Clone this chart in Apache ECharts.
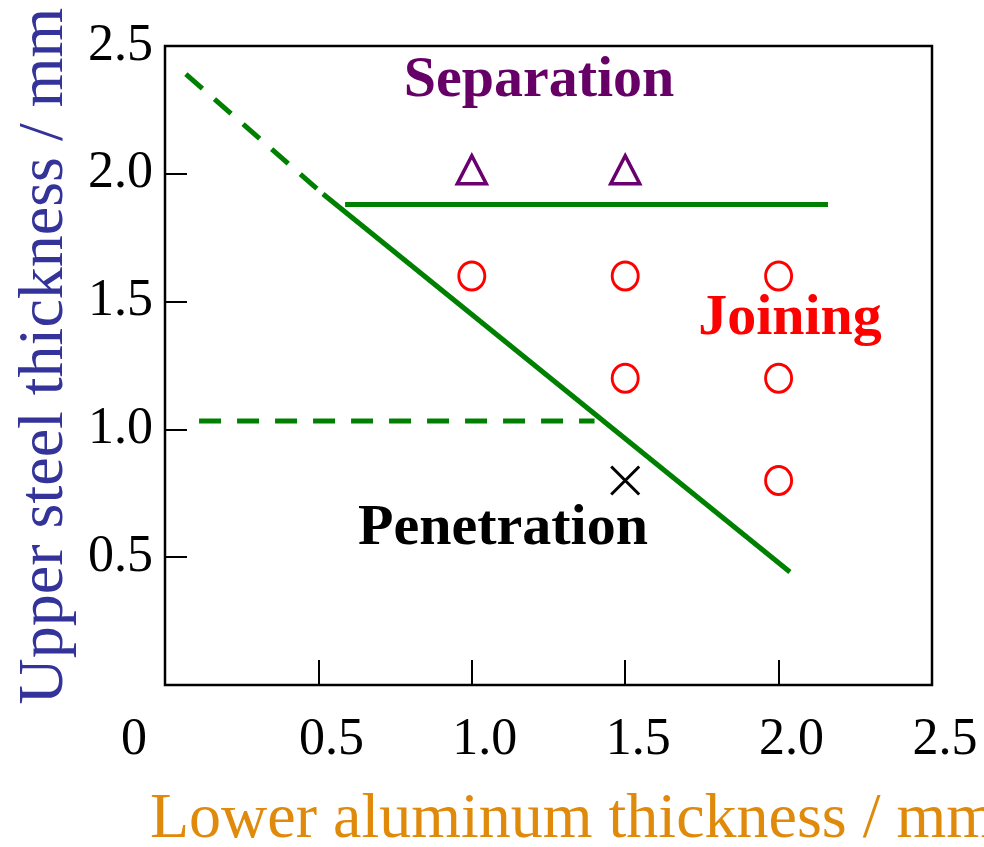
<!DOCTYPE html>
<html>
<head>
<meta charset="utf-8">
<script src="https://cdn.jsdelivr.net/npm/echarts@6/dist/echarts.min.js"></script>
<style>
html,body{margin:0;padding:0;background:#fff;}
#chart{width:984px;height:847px;}
</style>
</head>
<body>
<div id="chart"></div>
<script>
// ---- data ----
const xTickLabels = ['0', '0.5', '1.0', '1.5', '2.0', '2.5'];
const yTickLabels = ['', '0.5', '1.0', '1.5', '2.0', '2.5'];
const separationPts = [[1.0, 2.0], [1.5, 2.0]];
const joiningPts = [[1.0, 1.6], [1.5, 1.6], [2.0, 1.6], [1.5, 1.2], [2.0, 1.2], [2.0, 0.8]];
const penetrationPts = [[1.5, 0.8]];
const boundaryDiagDashed = [[0.068, 2.39], [0.515, 1.921]];
const boundaryDiagSolid = [[0.515, 1.921], [2.037, 0.442]];
const boundarySeparation = [[0.587, 1.88], [2.161, 1.88]];
const boundaryPenetration = [[0.111, 1.033], [1.40, 1.033]];
const regionLabels = ['Separation', 'Joining', 'Penetration'];
const xTitle = 'Lower aluminum thickness / mm';
const yTitle = 'Upper steel thickness / mm';

const FONT = '"Liberation Serif", "Times New Roman", serif';
const GREEN = '#008000';

const chart = echarts.init(document.getElementById('chart'), null, {renderer: 'canvas'});

function lineSeries(data, dashed) {
  return {
    type: 'line', data: data, symbol: 'none', silent: true, z: 2,
    lineStyle: {color: GREEN, width: 5, opacity: 1, type: dashed ? [22, 16] : 'solid', cap: 'butt'}
  };
}

const option = {
  animation: false,
  backgroundColor: '#fff',
  grid: {left: 165, top: 46, right: 52, bottom: 162, show: true, borderColor: '#000', borderWidth: 2.5, backgroundColor: 'transparent'},
  xAxis: {
    type: 'value', min: 0, max: 2.5, interval: 0.5,
    axisLine: {show: false},
    splitLine: {show: false},
    axisTick: {show: true, inside: true, length: 25, lineStyle: {color: '#000', width: 2}},
    axisLabel: {
      margin: 29, color: '#000', fontSize: 52, fontFamily: FONT, showMinLabel: true, showMaxLabel: true,
      formatter: function (v) {
        const i = Math.round(v / 0.5);
        return i === 0 ? '{o|' + xTickLabels[i] + '}' : '{n|' + xTickLabels[i] + '}';
      },
      rich: {
        o: {fontSize: 52, fontFamily: FONT, color: '#000', padding: [0, 62, 0, 0]},
        n: {fontSize: 52, fontFamily: FONT, color: '#000', padding: [0, 0, 0, 26]}
      }
    }
  },
  yAxis: {
    type: 'value', min: 0, max: 2.5, interval: 0.5,
    axisLine: {show: false},
    splitLine: {show: false},
    axisTick: {show: true, inside: true, length: 22, lineStyle: {color: '#000', width: 2}},
    axisLabel: {
      margin: 12, color: '#000', fontSize: 52, fontFamily: FONT, padding: [12, 0, 0, 0],
      showMinLabel: true, showMaxLabel: true,
      formatter: function (v) { return yTickLabels[Math.round(v / 0.5)]; }
    }
  },
  series: [
    lineSeries(boundaryDiagDashed, true),
    lineSeries(boundaryDiagSolid, false),
    lineSeries(boundarySeparation, false),
    lineSeries(boundaryPenetration, true),
    {
      type: 'scatter', data: separationPts, symbol: 'triangle', symbolSize: [29, 28], symbolOffset: [0, -4], z: 3, silent: true,
      itemStyle: {color: 'transparent', borderColor: '#6A0070', borderWidth: 3.5, opacity: 1}
    },
    {
      type: 'scatter', data: joiningPts, symbol: 'circle', symbolSize: [26, 28], z: 3, silent: true,
      itemStyle: {color: 'transparent', borderColor: '#FF0000', borderWidth: 3, opacity: 1}
    },
    {
      type: 'scatter', data: penetrationPts, symbol: 'path://M0,0L10,10M10,0L0,10', symbolSize: 28, z: 3, silent: true,
      itemStyle: {color: 'transparent', borderColor: '#000', borderWidth: 3, opacity: 1}
    }
  ],
  graphic: [
    {type: 'text', x: 539, y: 81, silent: true, style: {text: regionLabels[0], font: 'bold 58px ' + FONT, fill: '#660066', align: 'center', verticalAlign: 'middle'}},
    {type: 'text', x: 790, y: 319, silent: true, style: {text: regionLabels[1], font: 'bold 58px ' + FONT, fill: '#FF0000', align: 'center', verticalAlign: 'middle'}},
    {type: 'text', x: 503, y: 529, silent: true, style: {text: regionLabels[2], font: 'bold 58px ' + FONT, fill: '#000', align: 'center', verticalAlign: 'middle'}},
    {type: 'text', x: 150, y: 820, silent: true, style: {text: xTitle, font: '64px ' + FONT, fill: '#E08A0B', align: 'left', verticalAlign: 'middle'}},
    {type: 'text', x: 45, y: 356, rotation: Math.PI / 2, silent: true, style: {text: yTitle, font: '64px ' + FONT, fill: '#333399', align: 'center', verticalAlign: 'middle'}}
  ]
};
chart.setOption(option);
</script>
</body>
</html>
